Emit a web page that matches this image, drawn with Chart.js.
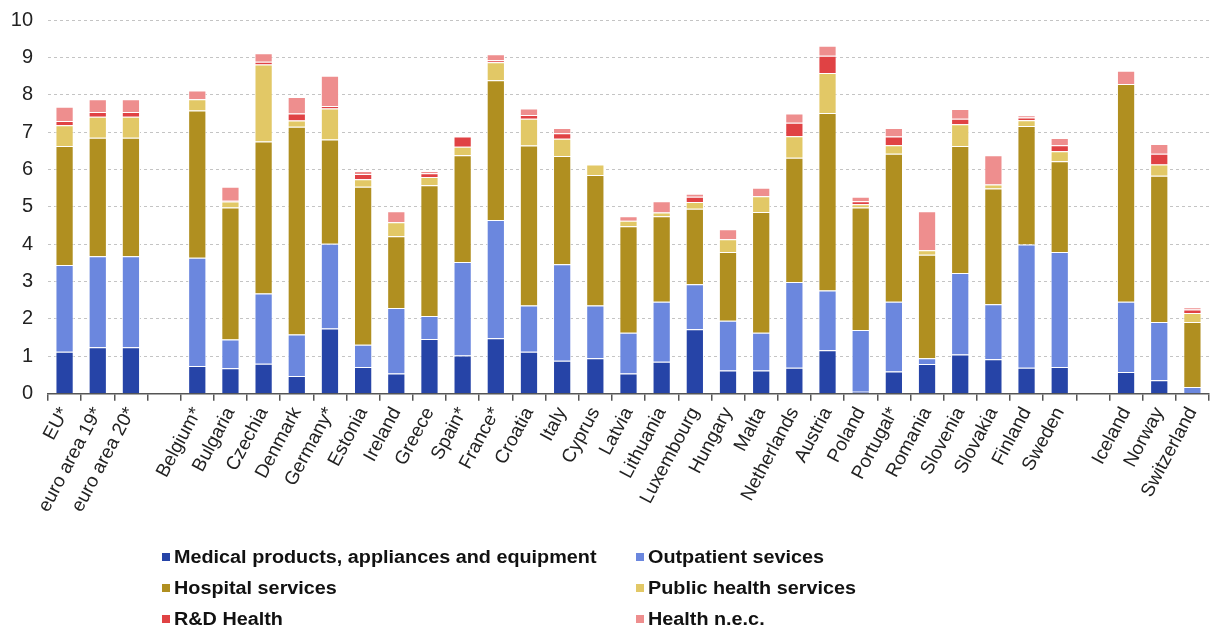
<!DOCTYPE html>
<html>
<head>
<meta charset="utf-8">
<title>Health expenditure by function</title>
<script src="https://cdn.jsdelivr.net/npm/chart.js"></script>
<style>
html, body { margin: 0; padding: 0; background: #fff; }
.canvas_div { width: 1211px; height: 630px; }
</style>
</head>
<body>
<div class="canvas_div">
    <canvas id="myChart"></canvas>
</div>
<script>
// categories ('' = empty gap slot)
const labels = ['EU*','euro area 19*','euro area 20*','',
  'Belgium*','Bulgaria','Czechia','Denmark','Germany*','Estonia','Ireland','Greece','Spain*','France*',
  'Croatia','Italy','Cyprus','Latvia','Lithuania','Luxembourg','Hungary','Malta','Netherlands','Austria',
  'Poland','Portugal*','Romania','Slovenia','Slovakia','Finland','Sweden','',
  'Iceland','Norway','Switzerland'];

const medical    = [1.12,1.24,1.24,null, 0.74,0.68,0.80,0.47,1.74,0.71,0.54,1.46,1.02,1.48,1.12,0.88,0.95,0.54,0.85,1.72,0.62,0.62,0.69,1.16,0.05,0.59,0.79,1.05,0.92,0.69,0.71,null, 0.58,0.36,0];
const outpatient = [2.32,2.44,2.44,null, 2.90,0.77,1.88,1.11,2.27,0.60,1.75,0.62,2.50,3.17,1.24,2.58,1.41,1.09,1.61,1.21,1.33,1.01,2.30,1.60,1.65,1.87,0.16,2.18,1.47,3.30,3.08,null, 1.88,1.56,0.18];
const hospital   = [3.19,3.17,3.17,null, 3.94,3.53,4.07,5.56,2.79,4.23,1.92,3.50,2.86,3.74,4.28,2.90,3.49,2.85,2.29,2.02,1.84,3.23,3.32,4.75,3.28,3.96,2.77,3.40,3.10,3.17,2.43,null, 5.83,3.91,1.74];
const publicH    = [0.55,0.56,0.56,null, 0.30,0.16,2.06,0.17,0.83,0.20,0.38,0.22,0.23,0.48,0.72,0.46,0.28,0.15,0.10,0.18,0.34,0.42,0.58,1.07,0.09,0.23,0.12,0.58,0.11,0.16,0.27,null, 0,0.30,0.24];
const rnd        = [0.12,0.13,0.13,null, 0,0.02,0.07,0.19,0.07,0.14,0,0.10,0.27,0.05,0.10,0.15,0,0.02,0,0.14,0,0,0.36,0.46,0.08,0.23,0,0.15,0,0.07,0.16,null, 0,0.29,0.09];
const nec        = [0.38,0.34,0.34,null, 0.23,0.38,0.23,0.44,0.81,0.08,0.29,0.06,0,0.16,0.17,0.14,0,0.10,0.30,0.08,0.27,0.23,0.25,0.27,0.12,0.23,1.04,0.26,0.78,0.06,0.19,null, 0.35,0.26,0.06];

const yTicks = [0,1,2,3,4,5,6,7,8,9,10];

function ds(label, data, color){
    return {
        label: label,
        data: data,
        backgroundColor: color,
        borderColor: '#ffffff',
        borderWidth: 1,
        barPercentage: 0.55,
        categoryPercentage: 1.0
    };
}

const data = {
    labels: labels,
    datasets: [
        ds('Medical products, appliances and equipment', medical, '#2644A7'),
        ds('Outpatient sevices', outpatient, '#6B87DE'),
        ds('Hospital services', hospital, '#B08F20'),
        ds('Public health services', publicH, '#E2C866'),
        ds('R&D Health', rnd, '#E04244'),
        ds('Health n.e.c.', nec, '#EE8E8E')
    ]
};

// two-column legend drawn under the axis labels
const legendPlugin = {
    id: 'twoColLegend',
    afterDraw(chart){
        const ctx = chart.ctx;
        const colX = [162, 636];
        const rowY = [557, 588, 619];
        ctx.save();
        ctx.font = 'bold 18px "Liberation Sans", Arial, sans-serif';
        ctx.textBaseline = 'middle';
        chart.data.datasets.forEach(function(d, i){
            const x = colX[i % 2], y = rowY[Math.floor(i / 2)];
            ctx.fillStyle = d.backgroundColor;
            ctx.fillRect(x, y - 4, 8, 8);
            ctx.fillStyle = '#111';
            ctx.save();
            ctx.translate(x + 12, y + 1);
            ctx.scale(1.1, 1);   // reference text is a bit wider than Liberation bold
            ctx.fillText(d.label, 0, 0);
            ctx.restore();
        });
        ctx.restore();
    }
};

let config = {
    type: 'bar',
    data: data,
    options: {
        responsive: true,
        maintainAspectRatio: false,
        animation: false,
        layout: { padding: { left: 10, right: 2, top: 20, bottom: 111 } },
        plugins: {
            legend: { display: false },
            tooltip: { enabled: false }
        },
        scales: {
            x: {
                stacked: true,
                offset: true,
                afterFit: function(s){ s.paddingLeft = 0; s.paddingRight = 0; },
                grid: { offset: true, drawOnChartArea: false, tickLength: 7, color: '#555', lineWidth: 1.5 },
                border: { color: '#555', width: 1.5 },
                ticks: {
                    autoSkip: false, maxRotation: 62, minRotation: 62,
                    color: '#222',
                    font: { family: '"Liberation Sans", Arial, sans-serif', size: 19 }
                }
            },
            y: {
                stacked: true,
                min: 0, max: 10,
                afterBuildTicks: function(scale){ scale.ticks = yTicks.map(function(v){ return { value: v }; }); },
                afterFit: function(s){ s.width = 38; s.paddingTop = 0; s.paddingBottom = 0; },
                grid: { color: '#c4c4c4', drawTicks: false },
                border: { display: false, dash: [3, 3] },
                ticks: {
                    padding: 15, color: '#222',
                    font: { family: '"Liberation Sans", Arial, sans-serif', size: 20 }
                }
            }
        }
    },
    plugins: [legendPlugin]
};

var myChart = new Chart(document.getElementById('myChart'), config);
</script>
</body>
</html>
